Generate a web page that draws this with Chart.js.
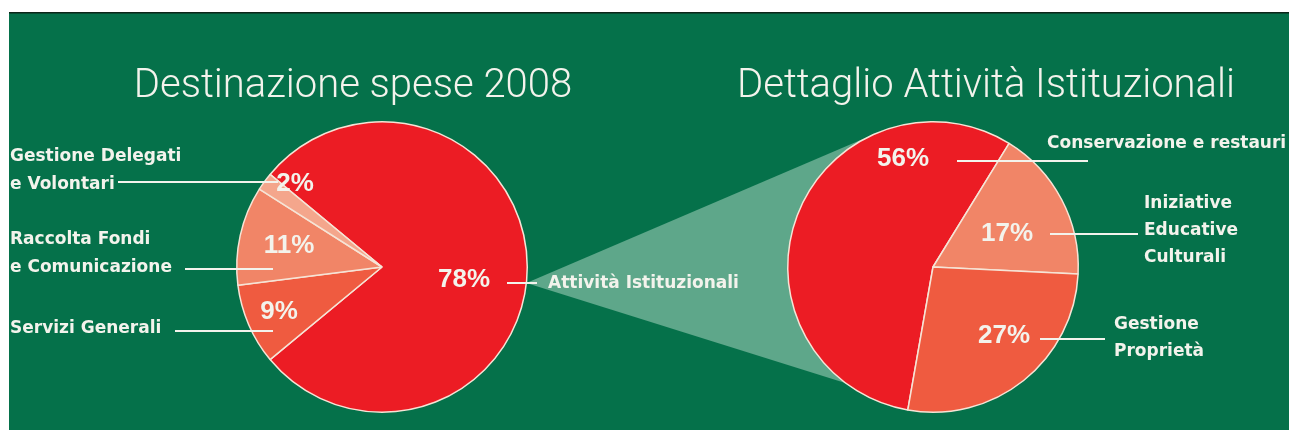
<!DOCTYPE html>
<html>
<head>
<meta charset="utf-8">
<script src="https://cdn.jsdelivr.net/npm/chart.js@4.4.1/dist/chart.umd.min.js"></script>
<style>
  body { margin: 0; width: 1289px; height: 430px; overflow: hidden; background: #fff; }
  canvas { position: absolute; top: 0; }
  #bg { left: 0; }
  #left { left: 0; }
  #right { left: 660px; }
</style>
</head>
<body>
<canvas id="bg" width="1289" height="430"></canvas>
<canvas id="left" width="760" height="430"></canvas>
<canvas id="right" width="629" height="430"></canvas>
<script>
// --- data ---
const mainTitle = 'Destinazione spese 2008';
const mainLabels = [['Attività Istituzionali'], ['Servizi Generali'], ['Raccolta Fondi', 'e Comunicazione'], ['Gestione Delegati', 'e Volontari']];
const mainValues = [78, 9, 11, 2];

const detailTitle = 'Dettaglio Attività Istituzionali';
const detailLabels = [['Conservazione e restauri'], ['Iniziative', 'Educative', 'Culturali'], ['Gestione', 'Proprietà']];
const detailValues = [56, 17, 27];

// --- styles ---
const GREEN = '#05714a';
const RED = '#ec1c24', MID = '#ef5b40', SALMON = '#f18567', PALE = '#f4a68c';
const TEXT = '#f3f3ec';
const pctFont = 'bold 26px "Liberation Sans", Arial, sans-serif';
const labelFont = 'bold 17px "DejaVu Sans", sans-serif';
const titleFont = '300 40px Roboto, "Liberation Sans", sans-serif';

// annotation layout, offsets from the pie centre in px
const mainLayout = [
  { pct: [82, 13], leader: [125, 155, 16], tx: 166, ty: [17] },
  { pct: [-103, 45], leader: [-207, -109, 64], tx: -372, ty: [62] },
  { pct: [-93, -21], leader: [-197, -109, 2], tx: -372, ty: [-27, 1] },
  { pct: [-87, -83], leader: [-264, -104, -85], tx: -372, ty: [-110, -82] }
];
const detailLayout = [
  { pct: [-30, -108], leader: [24, 155, -106], tx: 114, ty: [-123] },
  { pct: [74, -33], leader: [117, 205, -33], tx: 211, ty: [-63, -36, -9] },
  { pct: [71, 69], leader: [107, 172, 72], tx: 181, ty: [58, 85] }
];

const annotate = {
  id: 'annotate',
  afterDraw(chart, args, opts) {
    const ctx = chart.ctx;
    const meta = chart.getDatasetMeta(0);
    const values = chart.data.datasets[0].data;
    const cx = meta.data[0].x, cy = meta.data[0].y;
    ctx.save();
    ctx.fillStyle = TEXT;
    ctx.strokeStyle = TEXT;
    // title
    ctx.font = titleFont;
    ctx.textAlign = 'center';
    ctx.textBaseline = 'alphabetic';
    ctx.fillText(opts.title, cx + opts.titleDx, 97);
    opts.layout.forEach((l, i) => {
      // percentage
      ctx.font = pctFont;
      ctx.textAlign = 'center';
      ctx.textBaseline = 'middle';
      ctx.fillText(values[i] + '%', cx + l.pct[0], cy + l.pct[1]);
      // leader
      ctx.lineWidth = 2;
      ctx.beginPath();
      ctx.moveTo(cx + l.leader[0], cy + l.leader[2]);
      ctx.lineTo(cx + l.leader[1], cy + l.leader[2]);
      ctx.stroke();
      // category label
      ctx.font = labelFont;
      ctx.textAlign = 'left';
      chart.data.labels[i].forEach((line, j) => {
        ctx.fillText(line, cx + l.tx, cy + l.ty[j]);
      });
    });
    ctx.restore();
  }
};

function pie(id, labels, values, colors, rotation, padding, title, titleDx, layout) {
  return new Chart(document.getElementById(id), {
    type: 'pie',
    data: {
      labels: labels,
      datasets: [{
        data: values,
        backgroundColor: colors,
        borderColor: '#f6e4d6',
        borderWidth: 1.5
      }]
    },
    options: {
      responsive: false,
      animation: false,
      rotation: rotation,
      layout: { padding: padding },
      plugins: {
        legend: { display: false },
        tooltip: { enabled: false },
        annotate: { title: title, titleDx: titleDx, layout: layout }
      }
    },
    plugins: [annotate]
  });
}

const left = pie('left', mainLabels, mainValues, [RED, MID, SALMON, PALE], -50.4,
  { left: 236, right: 232, top: 121, bottom: 17 }, mainTitle, -29, mainLayout);
const right = pie('right', detailLabels, detailValues, [RED, SALMON, MID], 190,
  { left: 127, right: 210, top: 121, bottom: 17 }, detailTitle, 53, detailLayout);

// background, frame and the connecting cone
const bg = document.getElementById('bg').getContext('2d');
bg.fillStyle = GREEN;
bg.fillRect(9, 12, 1280, 418);
bg.fillStyle = '#0c2619';
bg.fillRect(9, 12, 1280, 1.5);

const a = left.getDatasetMeta(0).data[0];
const b = right.getDatasetMeta(0).data[0];
const bx = b.x + 660, by = b.y, R = b.outerRadius;
const apexDy = 16;
const ax = a.x + Math.sqrt(a.outerRadius * a.outerRadius - apexDy * apexDy), ay = a.y + apexDy;
const d = Math.hypot(bx - ax, by - ay);
const base = Math.atan2(by - ay, bx - ax);
const topAng = base - Math.asin(R / d);
const tLen = Math.sqrt(d * d - R * R);
const bottomAng = 17.4 * Math.PI / 180;
const bLen = (bx - ax) / Math.cos(bottomAng);
bg.fillStyle = '#5ea78a';
bg.beginPath();
bg.moveTo(ax, ay);
bg.lineTo(ax + tLen * Math.cos(topAng), ay + tLen * Math.sin(topAng));
bg.lineTo(bx, by);
bg.lineTo(ax + bLen * Math.cos(bottomAng), ay + bLen * Math.sin(bottomAng));
bg.closePath();
bg.fill();
</script>
</body>
</html>
